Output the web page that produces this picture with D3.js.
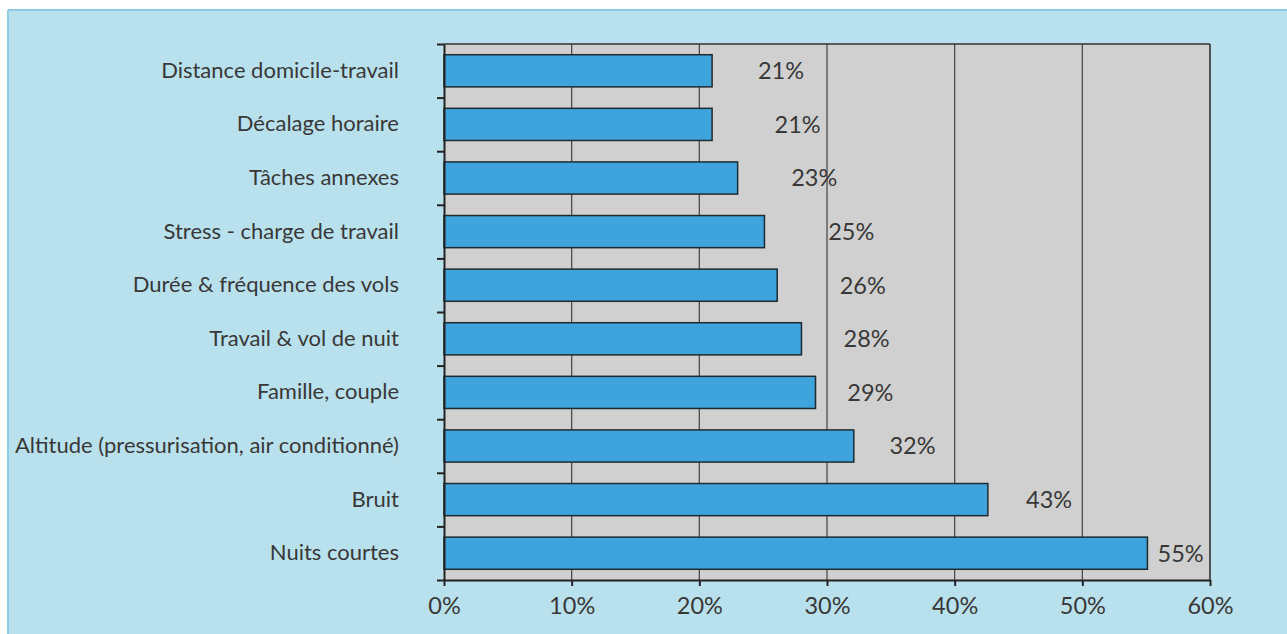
<!DOCTYPE html>
<html><head><meta charset="utf-8">
<script src="https://cdn.jsdelivr.net/npm/d3@7"></script>
<style>body{margin:0;background:#fff;} svg{display:block}</style>
</head><body><svg id="c" width="1287" height="634"></svg>
<script>
const categories = ["Distance domicile-travail","Décalage horaire","Tâches annexes","Stress - charge de travail","Durée & fréquence des vols","Travail & vol de nuit","Famille, couple","Altitude (pressurisation, air conditionné)","Bruit","Nuits courtes"];
const values = [21, 21, 23, 25.1, 26.1, 28, 29.1, 32.1, 42.6, 55.1];
const valueLabels = ["21%","21%","23%","25%","26%","28%","29%","32%","43%","55%"];
const labelAnchors = [26.4, 27.7, 29.0, 31.9, 32.8, 33.1, 33.4, 36.7, 47.4, 57.7];
const xTicks = [0,10,20,30,40,50,60];

const svg = d3.select("#c");
const W = 1287, H = 634;
const pL = 444, pR = 1210, pT = 44, pB = 580;
const font = "Lato, 'Noto Sans', sans-serif";
const textCol = "#383838";

svg.append("rect").attr("x",8).attr("y",10).attr("width",W).attr("height",H).attr("fill","#b9e1ed");
svg.append("line").attr("x1",8).attr("x2",8).attr("y1",10).attr("y2",H).attr("stroke","#8ccbe3").attr("stroke-width",2);
svg.append("line").attr("x1",8).attr("x2",W).attr("y1",10).attr("y2",10).attr("stroke","#8ccbe3").attr("stroke-width",2);

const x = d3.scaleLinear().domain([0,60]).range([pL,pR]);
const y = d3.scaleBand().domain(categories).range([pT,pB]).paddingInner(0.4).paddingOuter(0.2);
const yEdge = d3.scaleLinear().domain([0,categories.length]).range([pT,pB]);

svg.append("rect").attr("x",pL).attr("y",pT).attr("width",pR-pL).attr("height",pB-pT).attr("fill","#d0d0d0");

// gridlines
svg.append("g").selectAll("line").data(xTicks.filter(d=>d>0 && d<60)).join("line")
  .attr("x1",d=>x(d)).attr("x2",d=>x(d)).attr("y1",pT).attr("y2",pB)
  .attr("stroke","#4d4d4d").attr("stroke-width",1.3);
// top and right border
svg.append("line").attr("x1",pL).attr("x2",pR).attr("y1",pT).attr("y2",pT).attr("stroke","#333").attr("stroke-width",1.6);
svg.append("line").attr("x1",pR).attr("x2",pR).attr("y1",pT).attr("y2",pB).attr("stroke","#333").attr("stroke-width",1.6);

// bars
svg.append("g").selectAll("rect").data(categories).join("rect")
  .attr("x",x(0)).attr("y",d=>y(d))
  .attr("width",(d,i)=>x(values[i])-x(0)).attr("height",y.bandwidth())
  .attr("fill","#3ea4db").attr("stroke","#1e2a30").attr("stroke-width",1.5);

// value labels
svg.append("g").selectAll("text").data(categories).join("text")
  .attr("x",(d,i)=>x(labelAnchors[i])).attr("y",d=>y(d)+y.bandwidth()/2)
  .attr("dy","0.36em").attr("text-anchor","middle")
  .attr("font-family",font).attr("font-size",23.5).attr("fill",textCol)
  .text((d,i)=>valueLabels[i]);

// y axis boundary ticks
const ya = svg.append("g").attr("transform",`translate(${pL},0)`)
  .call(d3.axisLeft(yEdge).tickValues(d3.range(categories.length+1)).tickFormat("").tickSize(7).tickSizeOuter(0));
ya.select(".domain").attr("stroke","#222").attr("stroke-width",2);
ya.selectAll(".tick line").attr("stroke","#222").attr("stroke-width",2);

// category labels
const yl = svg.append("g").attr("transform",`translate(${pL},0)`)
  .call(d3.axisLeft(y).tickSize(0).tickPadding(45));
yl.select(".domain").remove();
yl.selectAll("text").attr("font-family",font).attr("font-size",22).attr("fill",textCol);

// x axis
const xa = svg.append("g").attr("transform",`translate(0,${pB})`)
  .call(d3.axisBottom(x).tickValues(xTicks).tickFormat(d=>d+"%").tickSize(6).tickSizeOuter(0).tickPadding(11));
xa.select(".domain").attr("stroke","#222").attr("stroke-width",2);
xa.selectAll(".tick line").attr("stroke","#222").attr("stroke-width",2);
xa.selectAll("text").attr("font-family",font).attr("font-size",23.5).attr("fill",textCol);
</script>
</body></html>
